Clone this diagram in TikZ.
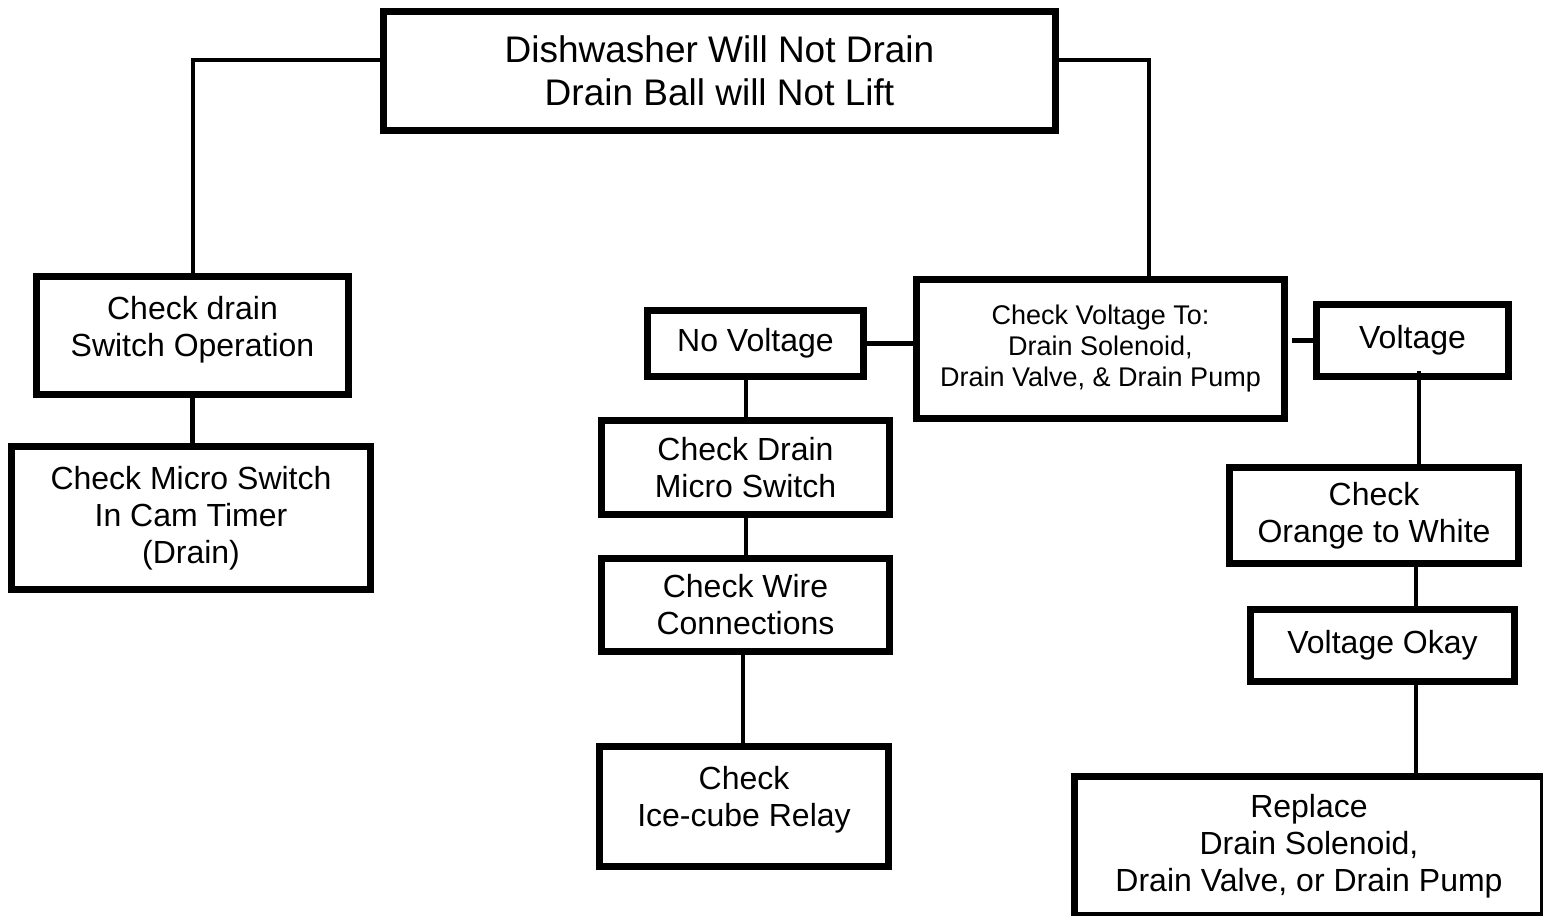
\documentclass[tikz,border=0pt]{standalone}
\usepackage{fontspec}
\setmainfont{Liberation Sans}

\begin{document}
\begin{tikzpicture}[x=0.5pt,y=-0.5pt,
  box/.style={draw,line width=3.5pt,inner sep=0pt,align=center,font=\fontsize{16}{18.5}\selectfont},
  link/.style={line width=2.4pt}]
\useasboundingbox (0,0) rectangle (1543,916);

\coordinate (lx) at (193,60);
\coordinate (rx) at (1149,60);
\coordinate (vx) at (1419,0);
\coordinate (ox) at (1416,0);
\coordinate (cx) at (746,0);
\coordinate (wx) at (743,0);

\node[box,minimum width=336pt,minimum height=59.5pt,font=\fontsize{18.5}{21.5}\selectfont] (top) at (719.5,71) {Dishwasher Will Not Drain\\Drain Ball will Not Lift};

\node[box,minimum width=156pt,minimum height=59pt] (drain) at (192.5,335.5) {Check drain\\Switch Operation\\[-9.5pt]\mbox{}};
\node[box,minimum width=179.5pt,minimum height=71.5pt] (micro) at (191,518) {Check Micro Switch\\In Cam Timer\\(Drain)};

\node[box,minimum width=108pt,minimum height=33pt] (novolt) at (755.5,343.5) {No Voltage};
\node[box,minimum width=184pt,minimum height=69.5pt,font=\fontsize{13.5}{15.5}\selectfont] (checkvolt) at (1100.5,349) {Check Voltage To:\\Drain Solenoid,\\Drain Valve, \& Drain Pump};
\node[box,minimum width=96pt,minimum height=36pt] (volt) at (1412.5,340.5) {Voltage};

\node[box,minimum width=144pt,minimum height=47pt] (checkdrain) at (745.5,467.5) {Check Drain\\Micro Switch};
\node[box,minimum width=144pt,minimum height=46.5pt] (wire) at (745.5,605) {Check Wire\\Connections};
\node[box,minimum width=144.5pt,minimum height=60pt] (relay) at (744,806.5) {Check\\Ice-cube Relay\\[-8.5pt]\mbox{}};

\node[box,minimum width=144.5pt,minimum height=48pt] (orange) at (1374,515.5) {Check\\Orange to White};
\node[box,minimum width=132pt,minimum height=36pt] (okay) at (1382.5,645.5) {Voltage Okay};
\node[box,minimum width=234.5pt,minimum height=69.5pt] (replace) at (1309,846) {Replace\\Drain Solenoid,\\Drain Valve, or Drain Pump};

\draw[link] (top.west |- lx) -| (drain.north -| lx);
\draw[link] (top.east |- rx) -| (checkvolt.north -| rx);
\draw[link] (drain.south) -- (drain.south |- micro.north);

\draw[link] (novolt.east) -- (novolt.east -| checkvolt.west);
\draw[link] ([xshift=2pt]checkvolt.east |- volt.west) -- (volt.west);

\draw[link] (novolt.south -| cx) -- (checkdrain.north -| cx);
\draw[link] (checkdrain.south -| cx) -- (wire.north -| cx);
\draw[link] (wire.south -| wx) -- (relay.north -| wx);

\draw[link] ([yshift=4.5pt]volt.south -| vx) -- (orange.north -| vx);
\draw[link] (orange.south -| ox) -- (okay.north -| ox);
\draw[link] (okay.south -| ox) -- (replace.north -| ox);

\end{tikzpicture}
\end{document}
